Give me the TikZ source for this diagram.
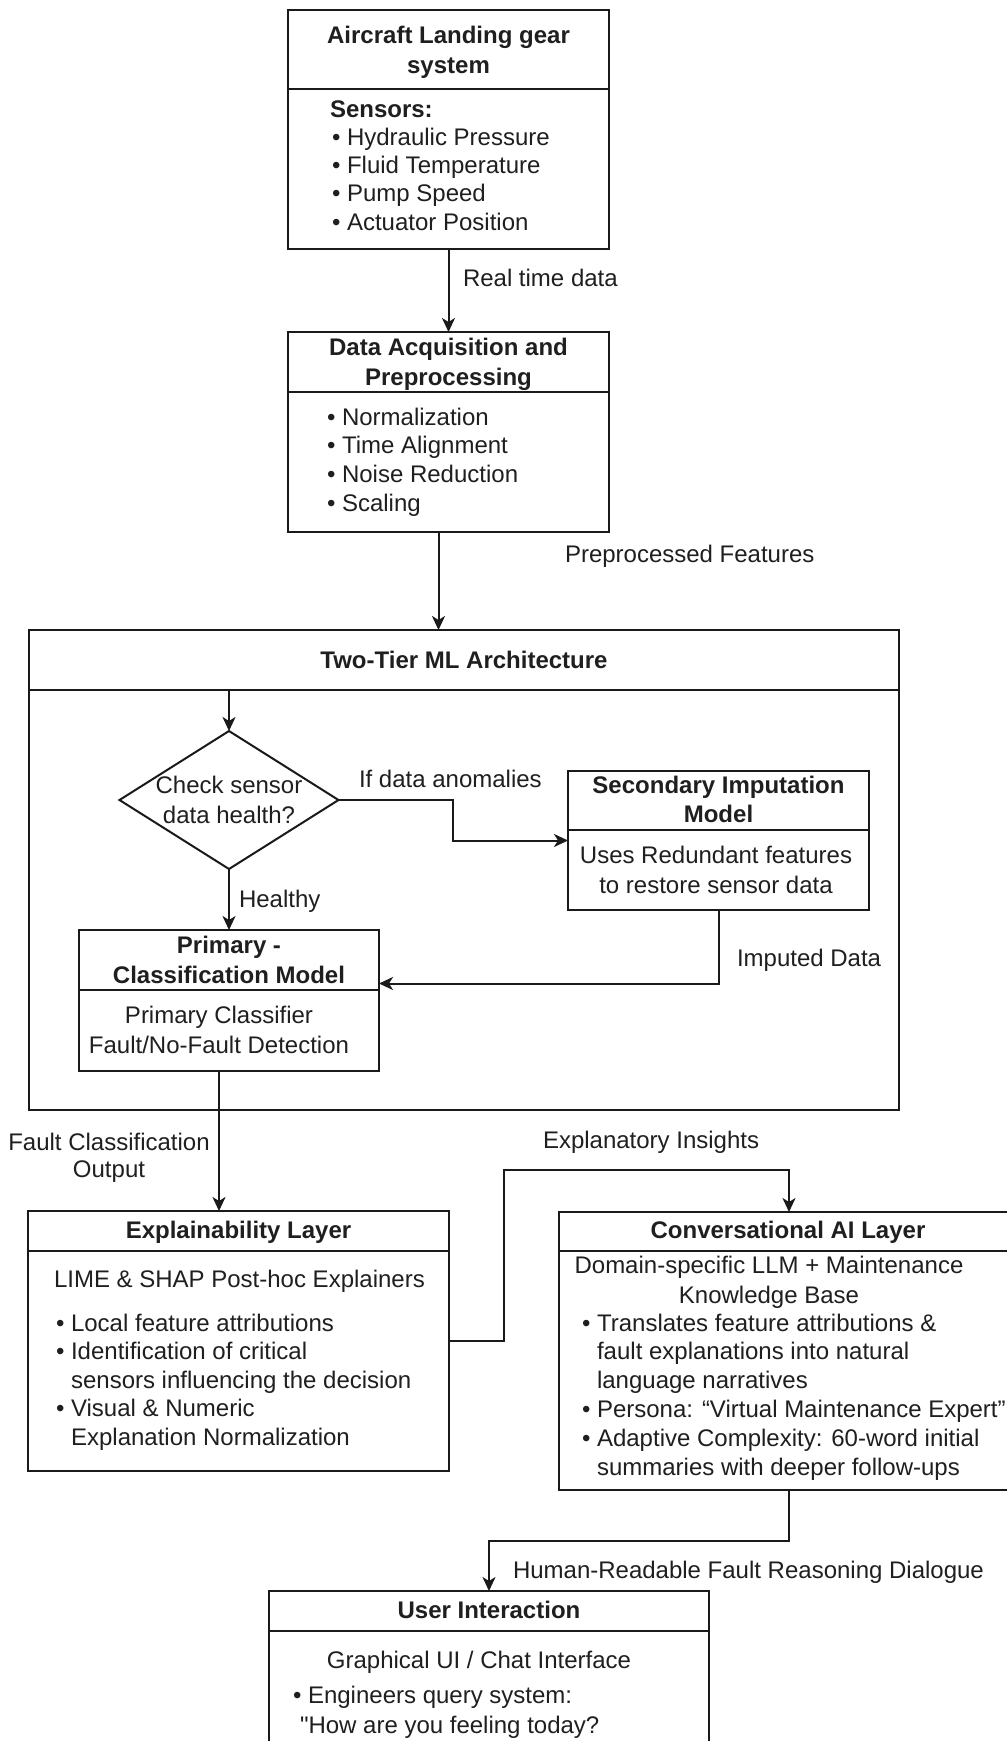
\documentclass[tikz,border=0pt]{standalone}
\usepackage{fontspec}
\setmainfont{Liberation Sans}
\newfontfamily\plainquote{Liberation Sans}
\usetikzlibrary{arrows.meta,shapes.geometric,calc}
\newcommand\dfs{\fontsize{24}{29}\selectfont}
\newcommand\bul{\textbullet\ }
\newcommand\ind{\phantom{\textbullet\ }}
\definecolor{lc}{HTML}{1A1A1A}
\definecolor{tc}{HTML}{1F1F1F}
\begin{document}
\begin{tikzpicture}[x=1pt,y=-1pt,
  boxs/.style={draw=lc, line width=2pt, rectangle, anchor=north west, inner sep=0pt, outer sep=0pt},
  txt/.style={inner sep=0pt, outer sep=0pt, text=tc, font=\dfs},
  ttl/.style={txt, font=\dfs\bfseries},
  divl/.style={draw=lc, line width=2pt},
  conn/.style={draw=lc, line width=2pt, -{Stealth[length=14pt,width=13pt,inset=4pt]}}]
\fill[white] (0,0) rectangle (1007,1741);
\useasboundingbox (0,0) rectangle (1007,1741);

% ---------- Box 1: Aircraft landing gear ----------
\node[boxs, minimum width=321pt, minimum height=239pt] (b1) at (288,10) {};
\draw[divl] ([yshift=-79pt]b1.north west) -- ([yshift=-79pt]b1.north east);
\node[ttl, anchor=base] (b1t) at (448.5,43) {\begin{tabular}[t]{@{}c@{}}Aircraft Landing gear\\[1pt]system\end{tabular}};
\node[txt, anchor=base west] (b1b) at (330,117) {\begin{tabular}[t]{@{}l@{}}\textbf{Sensors:}\\[-0.7pt]\hspace{2pt}\bul Hydraulic Pressure\\[-0.7pt]\hspace{2pt}\bul Fluid Temperature\\[-0.7pt]\hspace{2pt}\bul Pump Speed\\[-0.7pt]\hspace{2pt}\bul Actuator Position\end{tabular}};

% ---------- Box 2: Data acquisition ----------
\node[boxs, minimum width=321pt, minimum height=200pt] (b2) at (288,332) {};
\draw[divl] ([yshift=-60pt]b2.north west) -- ([yshift=-60pt]b2.north east);
\node[ttl, anchor=base] (b2t) at (448.5,355) {\begin{tabular}[t]{@{}c@{}}Data Acquisition and\\[1pt]Preprocessing\end{tabular}};
\node[txt, anchor=base west] (b2b) at (327,425) {\begin{tabular}[t]{@{}l@{}}\bul Normalization\\[-0.3pt]\bul Time Alignment\\[-0.3pt]\bul Noise Reduction\\[-0.3pt]\bul Scaling\end{tabular}};

% ---------- Container: Two-tier ----------
\node[boxs, minimum width=870pt, minimum height=480pt] (tt) at (29,630) {};
\draw[divl] ([yshift=-60pt]tt.north west) -- ([yshift=-60pt]tt.north east);
\coordinate (ttdiv) at (29,690);
\node[ttl, anchor=base] (ttt) at (464,668) {Two-Tier ML Architecture};

% diamond
\node[diamond, draw=lc, line width=2pt, minimum width=219pt, minimum height=138pt, inner sep=0pt, outer sep=0pt] (dia) at (229,800) {};
\node[txt, anchor=base] (diat) at (229,793) {\begin{tabular}[t]{@{}c@{}}Check sensor\\[1pt]data health?\end{tabular}};

% secondary
\node[boxs, minimum width=301pt, minimum height=139pt] (sec) at (568,771) {};
\draw[divl] ([yshift=-59pt]sec.north west) -- ([yshift=-59pt]sec.north east);
\node[ttl, anchor=base] (sect) at (718.5,793) {\begin{tabular}[t]{@{}c@{}}Secondary Imputation\\Model\end{tabular}};
\node[txt, anchor=base] (secb) at (716,863) {\begin{tabular}[t]{@{}c@{}}Uses Redundant features\\[1pt]to restore sensor data\end{tabular}};

% primary
\node[boxs, minimum width=300pt, minimum height=141pt] (prim) at (79,930) {};
\draw[divl] ([yshift=-60pt]prim.north west) -- ([yshift=-60pt]prim.north east);
\node[ttl, anchor=base] (primt) at (229,953) {\begin{tabular}[t]{@{}c@{}}Primary -\\[1pt]Classification Model\end{tabular}};
\node[txt, anchor=base] (primb) at (219,1023) {\begin{tabular}[t]{@{}c@{}}Primary Classifier\\[1pt]Fault/No-Fault Detection\end{tabular}};

% ---------- Explainability ----------
\node[boxs, minimum width=421pt, minimum height=260pt] (expl) at (28,1211) {};
\draw[divl] ([yshift=-40pt]expl.north west) -- ([yshift=-40pt]expl.north east);
\node[ttl, anchor=base] (explt) at (238.5,1238) {Explainability Layer};
\node[txt, anchor=base west] (expla) at (54,1287) {LIME \& SHAP Post-hoc Explainers};
\node[txt, anchor=base west] (explb) at (56,1331) {\begin{tabular}[t]{@{}l@{}}\bul Local feature attributions\\[-0.5pt]\bul Identification of critical\\[-0.5pt]\ind sensors influencing the decision\\[-0.5pt]\bul Visual \& Numeric\\[-0.5pt]\ind Explanation Normalization\end{tabular}};

% ---------- Conversational ----------
\node[boxs, minimum width=460pt, minimum height=278pt] (conv) at (559,1212) {};
\draw[divl] ([yshift=-39pt]conv.north west) -- ([yshift=-39pt]conv.north east);
\node[ttl, anchor=base] (convt) at (788,1238) {Conversational AI Layer};
\node[txt, anchor=base] (conva) at (769,1273) {\begin{tabular}[t]{@{}c@{}}Domain-specific LLM + Maintenance\\[1pt]Knowledge Base\end{tabular}};
\node[txt, anchor=base west] (convb) at (582,1331) {\begin{tabular}[t]{@{}l@{}}\bul Translates feature attributions \&\\[-0.2pt]\ind fault explanations into natural\\[-0.2pt]\ind language narratives\\[-0.2pt]\bul Persona: “Virtual Maintenance Expert”\\[-0.2pt]\bul Adaptive Complexity: 60-word initial\\[-0.2pt]\ind summaries with deeper follow-ups\end{tabular}};

% ---------- User interaction ----------
\node[boxs, minimum width=440pt, minimum height=200pt] (user) at (269,1591) {};
\draw[divl] ([yshift=-40pt]user.north west) -- ([yshift=-40pt]user.north east);
\node[ttl, anchor=base] (usert) at (489,1618) {User Interaction};
\node[txt, anchor=base] (usera) at (479,1668) {Graphical UI / Chat Interface};
\node[txt, anchor=base west] (userb) at (293,1703) {\begin{tabular}[t]{@{}l@{}}\bul Engineers query system:\\[1pt]\hspace{7pt}{\plainquote"}How are you feeling today?\end{tabular}};

% ---------- Connectors ----------
\draw[conn] (b1.south) -- (b2.north);
\draw[conn] ([xshift=-10pt]b2.south) -- ([xshift=-10pt]b2.south |- tt.north);
\draw[conn] (dia.north |- ttdiv) -- (dia.north);
\draw[conn] (dia.east) -- ++(114,0) |- ([yshift=0pt]sec.west);
\draw[conn] (dia.south) -- (prim.north);
\draw[conn] (sec.south) |- ([yshift=17pt]prim.east);
\draw[conn] ([xshift=-10pt]prim.south) -- ([xshift=-10pt]prim.south |- expl.north);
\coordinate (c1) at (504,1170);
\draw[conn] (expl.east) -| (c1) -| (conv.north);
\coordinate (c2) at (0,1541);
\draw[conn] (conv.south) -- (conv.south |- c2) -| (user.north);

% ---------- Labels ----------
\node[txt, anchor=base west] (l1) at (463,286) {Real time data};
\node[txt, anchor=base west] (l2) at (565,562) {Preprocessed Features};
\node[txt, anchor=base west] (l3) at (359,787) {If data anomalies};
\node[txt, anchor=base west] (l4) at (239,907) {Healthy};
\node[txt, anchor=base west] (l5) at (737,966) {Imputed Data};
\node[txt, anchor=base] (l6) at (109,1150) {\begin{tabular}[t]{@{}c@{}}Fault Classification\\[-2pt]Output\end{tabular}};
\node[txt, anchor=base west] (l7) at (543,1148) {Explanatory Insights};
\node[txt, anchor=base west] (l8) at (513,1578) {Human-Readable Fault Reasoning Dialogue};
\end{tikzpicture}
\end{document}
